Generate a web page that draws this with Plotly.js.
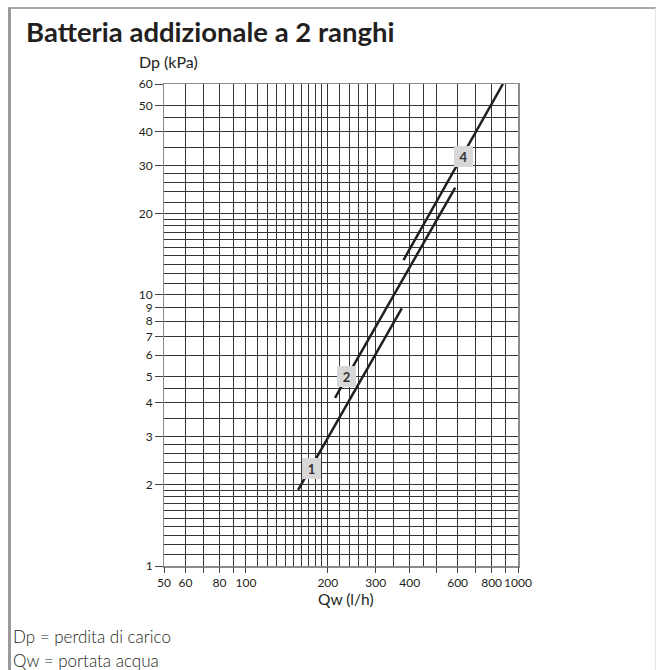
<!DOCTYPE html>
<html>
<head>
<meta charset="utf-8">
<script src="https://cdn.plot.ly/plotly-3.0.1.min.js"></script>
<style>
  html, body { margin: 0; padding: 0; background: #fff; }
  #wrap { position: relative; width: 659px; height: 670px; overflow: hidden; }
  #chart { position: absolute; left: 0; top: 0; width: 659px; height: 670px; }
  #frame { position: absolute; left: 8px; top: 7px; width: 648px; height: 680px;
           border-top: 2px solid #a8a8a8; border-left: 3px solid #9a9a9a; border-right: 1px solid #e6e6e6;
           pointer-events: none; box-sizing: border-box; }
</style>
</head>
<body>
<div id="wrap"><div id="chart"></div><div id="frame"></div></div>
<script>
// ---- data ----
const line1Q  = [155.6, 374];
const line1Dp = [1.91, 8.92];
const line2Q  = [212.6, 588];
const line2Dp = [4.17, 24.9];
const line4Q  = [379.5, 880];
const line4Dp = [13.45, 60];

const curveNames = ['1', '2', '4'];
const labelQ  = [174.4, 234.7, 631];
const labelDp = [2.29, 5.02, 32.3];

const xGrid = [50,60,70,80,90,100,110,120,130,140,150,160,170,180,190,200,220,240,260,280,300,350,400,450,500,600,700,800,900,1000];
const yGrid = [1,1.1,1.2,1.3,1.4,1.5,1.6,1.7,1.8,1.9,2,2.2,2.4,2.6,2.8,3,3.5,4,4.5,5,6,7,8,9,10,11,12,13,14,15,16,17,18,19,20,22,24,26,28,30,35,40,45,50,60];

const xTickVals = [50,60,70,80,90,100,200,300,400,500,600,700,800,900,1000];
const xTickText = ['50','60','','80','','100','200','300','400','','600','','800','','1000'];
const yTickVals = [1,2,3,4,5,6,7,8,9,10,20,30,40,50,60];
const yTickText = ['1','2','3','4','5','6','7','8','9','10','20','30','40','50','60'];

const titleText = 'Batteria addizionale a 2 ranghi';
const yTitle = 'Dp (kPa)';
const xTitle = 'Qw (l/h)';
const note1 = 'Dp = perdita di carico';
const note2 = 'Qw = portata acqua';

// ---- layout helpers ----
const W = 659, H = 670;
const L = 164, R = 518, T = 84, B = 566;
const fx = px => (px - L) / (R - L);
const fy = py => (B - py) / (B - T);
const ink = '#231f20';
const FONT = 'Lato, "Open Sans", sans-serif';

const lineStyle = { color: ink, width: 2.5 };
const traces = [
  { x: line1Q, y: line1Dp, mode: 'lines', line: lineStyle, hoverinfo: 'skip', showlegend: false },
  { x: line2Q, y: line2Dp, mode: 'lines', line: lineStyle, hoverinfo: 'skip', showlegend: false },
  { x: line4Q, y: line4Dp, mode: 'lines', line: lineStyle, hoverinfo: 'skip', showlegend: false },
  { x: [], y: [], xaxis: 'x2', yaxis: 'y2', mode: 'lines', showlegend: false, hoverinfo: 'skip' }
];

const gridCol = '#353535';
const frameCol = '#8c8c8c';
const tickFont = { family: FONT, size: 12, color: ink };

const annotations = [
  { xref: 'paper', yref: 'paper', x: fx(137), y: fy(62), xanchor: 'left', yanchor: 'middle',
    text: yTitle, showarrow: false, font: { family: FONT, size: 16, color: ink } },
  { xref: 'paper', yref: 'paper', x: fx(346), y: fy(599), xanchor: 'center', yanchor: 'middle',
    text: xTitle, showarrow: false, font: { family: FONT, size: 15.5, color: ink } },
  { xref: 'paper', yref: 'paper', x: fx(11), y: fy(636), xanchor: 'left', yanchor: 'middle',
    text: note1, showarrow: false, font: { family: FONT, size: 17, weight: 300, color: ink } },
  { xref: 'paper', yref: 'paper', x: fx(11), y: fy(660), xanchor: 'left', yanchor: 'middle',
    text: note2, showarrow: false, font: { family: FONT, size: 17, weight: 300, color: ink } }
];
curveNames.forEach((n, i) => {
  annotations.push({
    x: Math.log10(labelQ[i]), y: Math.log10(labelDp[i]), xref: 'x', yref: 'y',
    text: '<b>' + n + '</b>', showarrow: false,
    font: { family: FONT, size: 13, color: '#333' },
    bgcolor: '#d8d8d8', bordercolor: '#d8d8d8', borderwidth: 1, borderpad: 2,
    width: 13, height: 15, align: 'center', valign: 'middle'
  });
});

const layout = {
  width: W, height: H,
  margin: { l: L, r: W - R, t: T, b: H - B, pad: 0 },
  paper_bgcolor: '#fff', plot_bgcolor: '#fff',
  showlegend: false,
  title: { text: '<b>' + titleText + '</b>', xref: 'container', yref: 'container',
           x: 26 / W, xanchor: 'left', y: 1 - 32 / H, yanchor: 'middle',
           font: { family: FONT, size: 27.5, color: ink } },
  xaxis: {
    type: 'log', range: [Math.log10(50), Math.log10(1000)],
    tickmode: 'array', tickvals: xGrid, showticklabels: false, ticks: '',
    showgrid: true, gridcolor: gridCol, gridwidth: 1,
    showline: true, mirror: true, linecolor: frameCol, linewidth: 1.5,
    zeroline: false, fixedrange: true
  },
  yaxis: {
    type: 'log', range: [0, Math.log10(60)],
    tickmode: 'array', tickvals: yGrid, showticklabels: false, ticks: '',
    showgrid: true, gridcolor: gridCol, gridwidth: 1,
    showline: true, mirror: true, linecolor: frameCol, linewidth: 1.5,
    zeroline: false, fixedrange: true
  },
  xaxis2: {
    type: 'log', range: [Math.log10(50), Math.log10(1000)], overlaying: 'x', anchor: 'y2', side: 'bottom',
    tickmode: 'array', tickvals: xTickVals, ticktext: xTickText, tickangle: 0,
    ticks: 'outside', ticklen: 6, tickwidth: 1, tickcolor: '#444',
    showgrid: false, showline: false, zeroline: false, tickfont: tickFont, fixedrange: true
  },
  yaxis2: {
    type: 'log', range: [0, Math.log10(60)], overlaying: 'y', anchor: 'x2', side: 'left',
    tickmode: 'array', tickvals: yTickVals, ticktext: yTickText,
    ticks: 'outside', ticklen: 8, tickwidth: 1, tickcolor: '#444',
    showgrid: false, showline: false, zeroline: false, tickfont: tickFont, fixedrange: true
  },
  annotations: annotations
};

Plotly.newPlot('chart', traces, layout, { displayModeBar: false, staticPlot: true });
</script>
</body>
</html>
